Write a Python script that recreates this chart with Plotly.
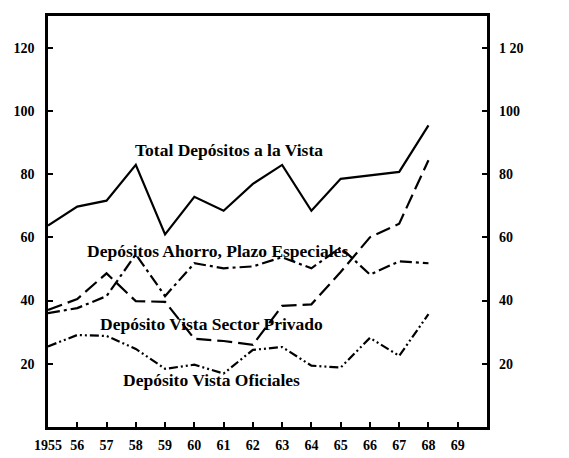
import plotly.graph_objects as go

years = list(range(1955, 1969))
total_vista = [63.7, 69.7, 71.6, 82.9, 60.9, 72.8, 68.4, 76.9, 82.9, 68.4, 78.5, 79.5, 80.7, 95.4]
vista_privado = [37.0, 40.5, 48.6, 39.8, 39.6, 27.9, 27.2, 26.0, 38.3, 38.8, 49.0, 60.0, 64.3, 84.4]
ahorro_plazo = [36.0, 37.6, 41.4, 54.6, 41.4, 51.8, 50.2, 50.8, 53.7, 50.2, 56.8, 48.2, 52.4, 51.8]
vista_oficiales = [25.5, 29.1, 28.8, 24.7, 18.4, 19.7, 16.9, 24.4, 25.3, 19.4, 18.8, 28.2, 22.5, 35.7]

x_tickvals = list(range(1955, 1970))
x_ticktext = ["1955", "56", "57", "58", "59", "60", "61", "62", "63", "64", "65", "66", "67", "68", "69"]
y_tickvals = [20, 40, 60, 80, 100, 120]
y_ticktext = ["20", "40", "60", "80", "100", "120"]
y_ticktext_right = ["20", "40", "60", "80", "100", "1 20"]

FONT = "Liberation Serif"

fig = go.Figure()
series = [
    (total_vista, "solid"),
    (vista_privado, "15px,6px"),
    (ahorro_plazo, "12px,4px,3px,4px"),
    (vista_oficiales, "9px,3px,2px,3px,2px,3px"),
]
for vals, dash in series:
    fig.add_trace(go.Scatter(x=years, y=vals, mode="lines",
                             line=dict(color="black", width=2.2, dash=dash),
                             showlegend=False, hoverinfo="skip"))
# invisible trace for right axis
fig.add_trace(go.Scatter(x=[1955], y=[0], yaxis="y2", mode="markers",
                         marker=dict(opacity=0), showlegend=False, hoverinfo="skip"))

labels = [
    ("Total Depósitos a la Vista", 1961.2, 87.6),
    ("Depósitos Ahorro, Plazo Especiales", 1960.8, 55.8),
    ("Depósito Vista Sector Privado", 1960.6, 32.6),
    ("Depósito Vista Oficiales", 1960.6, 15.0),
]
for txt, x, y in labels:
    fig.add_annotation(x=x, y=y, text="<b>" + txt + "</b>", showarrow=False,
                       font=dict(family=FONT, size=17.5, color="black"))

tickfont = dict(family=FONT, size=14, color="black", weight="bold")
fig.update_layout(
    width=561, height=450,
    margin=dict(l=37, r=82, t=5, b=30),
    paper_bgcolor="white", plot_bgcolor="white",
    font=dict(family=FONT, size=14, color="black"),
    xaxis=dict(range=[1955, 1970], tickvals=x_tickvals, ticktext=x_ticktext,
               ticks="inside", ticklen=5, tickwidth=2, tickcolor="black",
               showgrid=False, zeroline=False, showline=True, linewidth=2.5,
               linecolor="black", mirror=True, ticklabelstandoff=3,
               tickfont=tickfont),
    yaxis=dict(range=[0, 130], tickvals=y_tickvals, ticktext=y_ticktext,
               ticks="inside", ticklen=5, tickwidth=2, tickcolor="black",
               showgrid=False, zeroline=False, showline=True, linewidth=2.5,
               linecolor="black", mirror=True, ticklabelstandoff=8,
               tickfont=tickfont),
    yaxis2=dict(range=[0, 130], tickvals=y_tickvals, ticktext=y_ticktext_right,
                overlaying="y", side="right", ticks="inside", ticklen=5,
                tickwidth=2, tickcolor="black", showgrid=False, zeroline=False,
                showline=False, ticklabelstandoff=11,
                tickfont=tickfont),
)

fig.write_html("out.html")
